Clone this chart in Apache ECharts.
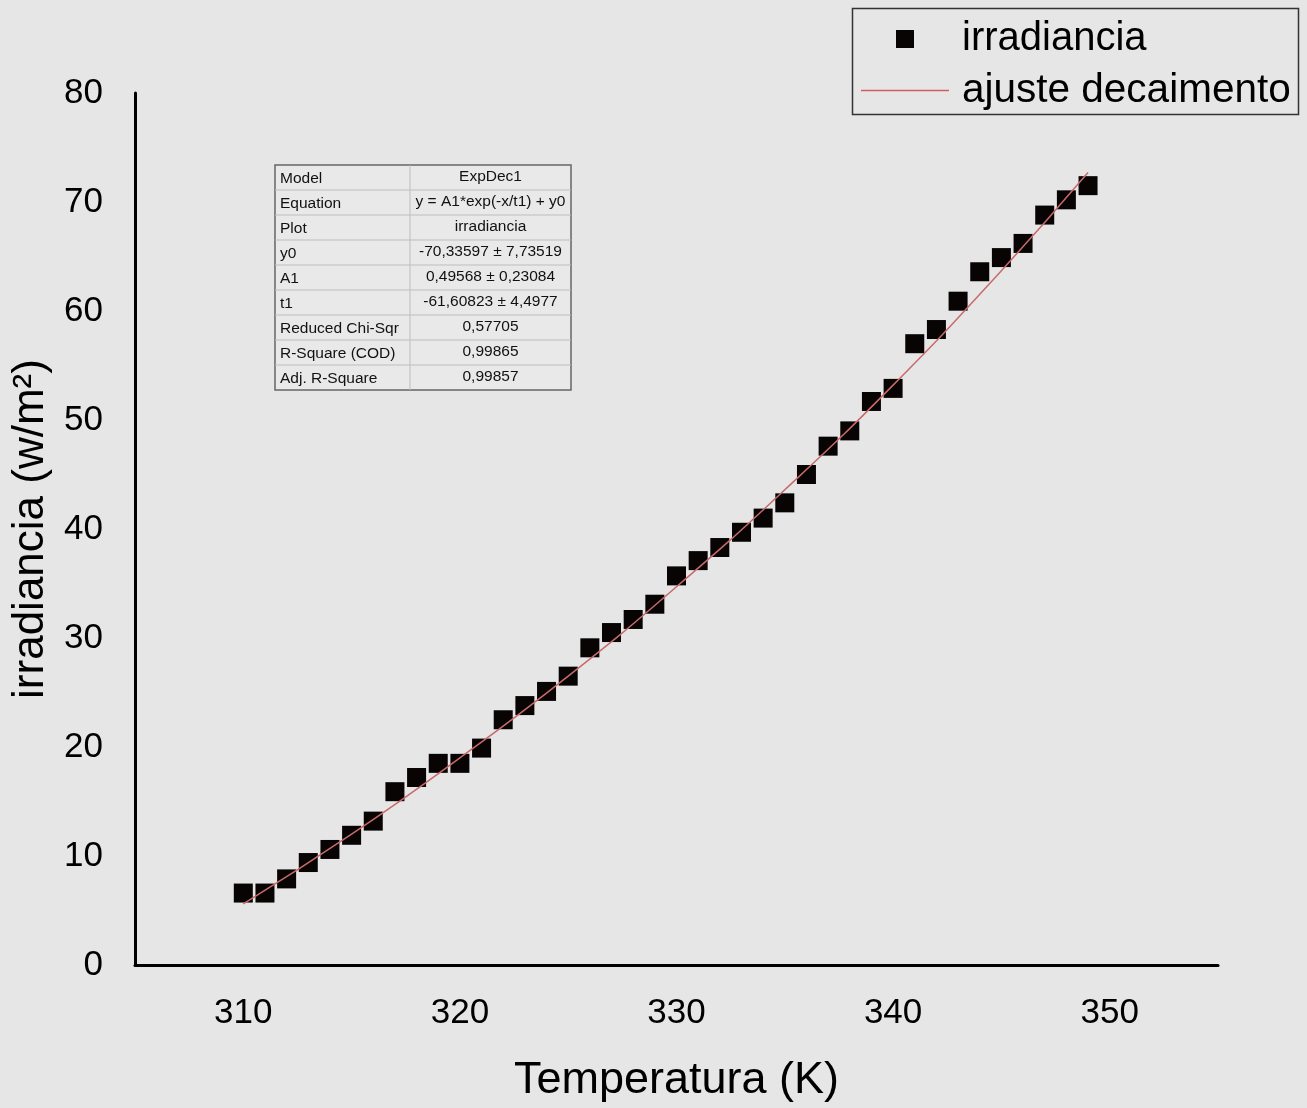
<!DOCTYPE html>
<html lang="es">
<head>
    <meta charset="UTF-8">
    <title>irradiancia vs temperatura</title>
    <script src="https://cdn.jsdelivr.net/npm/echarts@6/dist/echarts.min.js"></script>
    <style>
        html, body { margin: 0; padding: 0; background: #e6e6e6; }
        #chart { width: 1307px; height: 1108px; }
    </style>
</head>
<body>
<div id="chart"></div>
<script>
    // datos medidos
    const temperatura = [310, 311, 312, 313, 314, 315, 316, 317, 318, 319,
        320, 321, 322, 323, 324, 325, 326, 327, 328, 329,
        330, 331, 332, 333, 334, 335, 336, 337, 338, 339,
        340, 341, 342, 343, 344, 345, 346, 347, 348, 349];
    const irradiancia = [6.6, 6.6, 7.9, 9.4, 10.6, 11.9, 13.2, 15.9, 17.2, 18.5,
        18.5, 19.9, 22.5, 23.8, 25.1, 26.5, 29.1, 30.5, 31.7, 33.1,
        35.7, 37.1, 38.3, 39.7, 41.0, 42.4, 45.0, 47.6, 49.0, 51.7,
        52.9, 57.0, 58.3, 60.9, 63.6, 64.9, 66.2, 68.8, 70.2, 71.5];

    // curva de ajuste
    const ajusteX = [310, 315, 320, 325, 330, 335, 340, 345, 349];
    const ajusteY = [5.6, 12.0, 19.0, 26.5, 34.7, 43.6, 53.2, 63.7, 72.7];

    // tabla del ajuste
    const tablaEtiquetas = ['Model', 'Equation', 'Plot', 'y0', 'A1', 't1',
        'Reduced Chi-Sqr', 'R-Square (COD)', 'Adj. R-Square'];
    const tablaValores = ['ExpDec1', 'y = A1*exp(-x/t1) + y0', 'irradiancia',
        '-70,33597 \u00b1 7,73519', '0,49568 \u00b1 0,23084', '-61,60823 \u00b1 4,4977',
        '0,57705', '0,99865', '0,99857'];

    const FONT = 'Liberation Sans, Arial, sans-serif';

    function tabla() {
        const x0 = 275, y0 = 165, w1 = 135, w2 = 161, h = 25;
        const els = [];
        els.push({
            type: 'rect',
            shape: {x: x0, y: y0, width: w1 + w2, height: h * tablaEtiquetas.length},
            style: {fill: '#e9e9e9', stroke: '#666', lineWidth: 1.5}
        });
        for (let i = 0; i < tablaEtiquetas.length; i++) {
            const y = y0 + i * h;
            if (i > 0) {
                els.push({
                    type: 'line',
                    shape: {x1: x0, y1: y, x2: x0 + w1 + w2, y2: y},
                    style: {stroke: '#bdbdbd', lineWidth: 1}
                });
            }
            els.push({
                type: 'text',
                style: {
                    x: x0 + 5, y: y + h / 2 + 1, text: tablaEtiquetas[i],
                    font: '15.5px ' + FONT, fill: '#111', verticalAlign: 'middle'
                }
            });
            els.push({
                type: 'text',
                style: {
                    x: x0 + w1 + w2 / 2, y: y + h / 2 - 1, text: tablaValores[i],
                    font: '15.5px ' + FONT, fill: '#111', align: 'center', verticalAlign: 'middle'
                }
            });
        }
        els.push({
            type: 'line',
            shape: {x1: x0 + w1, y1: y0, x2: x0 + w1, y2: y0 + h * tablaEtiquetas.length},
            style: {stroke: '#bdbdbd', lineWidth: 1}
        });
        return els;
    }

    const chart = echarts.init(document.getElementById('chart'));

    const option = {
        backgroundColor: '#e6e6e6',
        animation: false,
        textStyle: {fontFamily: FONT},
        grid: {left: 135, right: 89, top: 93, bottom: 143, containLabel: false, outerBoundsMode: 'none'},
        legend: [
            {
                data: [{name: 'irradiancia', icon: 'rect'}],
                left: 896, top: 19, padding: 0,
                itemWidth: 18, itemHeight: 18, itemGap: 0,
                textStyle: {fontSize: 40, color: '#000', padding: [0, 0, 0, 43]}
            },
            {
                data: [{name: 'ajuste decaimento', icon: 'rect'}],
                left: 861, top: 70, padding: 0,
                itemWidth: 88, itemHeight: 1.5,
                textStyle: {fontSize: 40.5, color: '#000', padding: [0, 0, 0, 8]}
            }
        ],
        graphic: [
            {
                type: 'rect',
                shape: {x: 852.5, y: 8.5, width: 446, height: 106},
                style: {fill: 'transparent', stroke: '#333', lineWidth: 1.5}
            }
        ].concat(tabla()),
        xAxis: {
            type: 'value',
            min: 305, max: 355, interval: 5,
            name: 'Temperatura (K)',
            nameLocation: 'middle',
            nameGap: 93,
            nameTextStyle: {fontSize: 45, color: '#000'},
            axisLine: {lineStyle: {color: '#000', width: 3}},
            axisTick: {show: false},
            splitLine: {show: false},
            axisLabel: {
                fontSize: 35, color: '#000', margin: 31,
                formatter: v => (v % 10 === 0 && v < 355 ? String(v) : '')
            }
        },
        yAxis: {
            type: 'value',
            min: 0, max: 80, interval: 10,
            name: 'irradiancia (w/m\u00b2)',
            nameLocation: 'middle',
            nameGap: 77,
            nameTextStyle: {fontSize: 44, color: '#000'},
            axisLine: {show: true, lineStyle: {color: '#000', width: 3}},
            axisTick: {show: false},
            splitLine: {show: false},
            axisLabel: {fontSize: 35, color: '#000', margin: 32}
        },
        series: [
            {
                name: 'ajuste decaimento',
                type: 'line',
                data: ajusteX.map((x, i) => [x, ajusteY[i]]),
                smooth: true,
                showSymbol: false,
                color: '#d06060',
                lineStyle: {color: '#c86a6a', width: 1.5},
                z: 3
            },
            {
                name: 'irradiancia',
                type: 'scatter',
                data: temperatura.map((x, i) => [x, irradiancia[i]]),
                symbol: 'rect',
                symbolSize: 19,
                itemStyle: {color: '#080404', opacity: 1},
                z: 2
            }
        ]
    };

    chart.setOption(option);
</script>
</body>
</html>
